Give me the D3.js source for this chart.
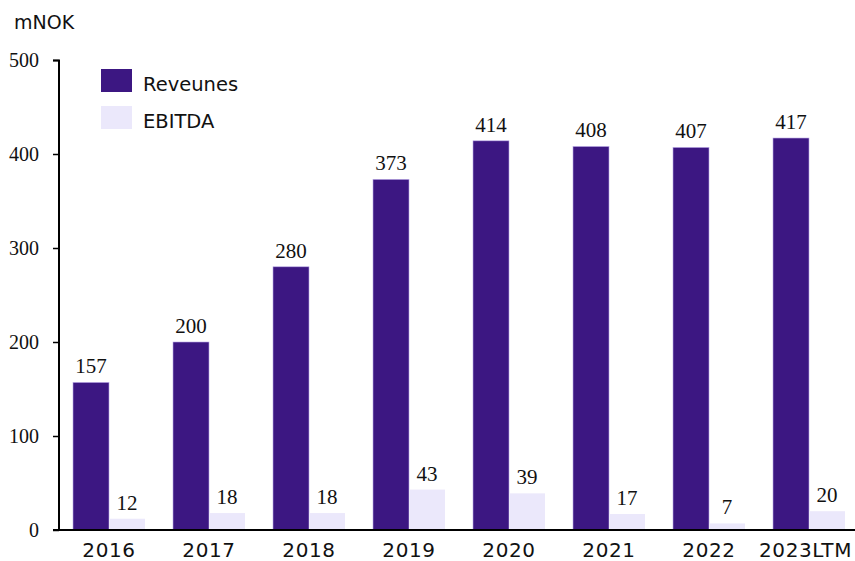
<!DOCTYPE html>
<html><head><meta charset="utf-8">
<script src="https://cdn.jsdelivr.net/npm/d3@7"></script>
<style>body{margin:0;background:#fff}</style>
</head><body>
<svg id="c" width="855" height="561"></svg>
<script>
const categories = ["2016","2017","2018","2019","2020","2021","2022","2023LTM"];
const revenues = [157,200,280,373,414,408,407,417];
const ebitda = [12,18,18,43,39,17,7,20];
const seriesNames = ["Reveunes","EBITDA"];
const yTicks = [0,100,200,300,400,500];
const unitLabel = "mNOK";

const colors = ["#3c1782","#ebe8fb"];
const serif = "'Liberation Serif', 'DejaVu Serif', serif";
const sans = "'DejaVu Sans', 'Liberation Sans', sans-serif";

const svg = d3.select("#c");
const x = d3.scaleBand().domain(categories).range([59,859]).paddingInner(0.28).paddingOuter(0.14);
const xs = d3.scaleBand().domain([0,1]).range([0,x.bandwidth()]);
const y = d3.scaleLinear().domain([0,500]).range([530,60]);

const data = [revenues, ebitda];

// bars
data.forEach((vals, si) => {
  const g = svg.append("g");
  g.selectAll("rect").data(vals).join("rect")
    .attr("x", (d,i) => x(categories[i]) + xs(si))
    .attr("y", d => y(d))
    .attr("width", xs.bandwidth())
    .attr("height", d => y(0) - y(d))
    .attr("fill", colors[si])
    .attr("stroke", si === 0 ? "#b9a8e6" : "none")
    .attr("stroke-width", 0.6);
  g.selectAll("text").data(vals).join("text")
    .attr("x", (d,i) => x(categories[i]) + xs(si) + xs.bandwidth()/2)
    .attr("y", d => y(d) - 9)
    .attr("text-anchor","middle")
    .attr("font-family", serif)
    .attr("font-size", 21)
    .attr("fill","#111")
    .text(d => d);
});

// y axis
const yAxis = svg.append("g").attr("transform","translate(59,0)")
  .call(d3.axisLeft(y).tickValues(yTicks).tickSize(6).tickPadding(14));
yAxis.select(".domain").attr("stroke","#000").attr("stroke-width",2).attr("d","M-6,60.5H0V530");
yAxis.selectAll(".tick line").attr("stroke","#000").attr("stroke-width",1.5);
yAxis.selectAll(".tick text").attr("font-family",serif).attr("font-size",20).attr("fill","#111");

// x axis
const xAxis = svg.append("g").attr("transform","translate(0,530)")
  .call(d3.axisBottom(x).tickSize(0));
xAxis.select(".domain").attr("stroke","#000").attr("stroke-width",2).attr("d","M53,0H855");
xAxis.selectAll(".tick text").attr("dy",null).attr("y",27)
  .attr("font-family",sans).attr("font-size",20).attr("letter-spacing",0.6).attr("fill","#111");
// keep labels inside the picture
xAxis.selectAll(".tick").each(function(d){
  const t = d3.select(this).select("text");
  const b = t.node().getBBox();
  const cx = x(d) + x.bandwidth()/2;
  const right = cx + b.x + b.width;
  if (right > 852) t.attr("x", 852 - right);
});

// unit label
svg.append("text").attr("x",14).attr("y",29).attr("font-family",sans).attr("font-size",19).attr("fill","#111").text(unitLabel);

// legend
seriesNames.forEach((n,i) => {
  const ly = 69 + i*37;
  svg.append("rect").attr("x",101).attr("y",ly).attr("width",31).attr("height",23).attr("fill",colors[i]);
  svg.append("text").attr("x",143).attr("y",ly+22).attr("font-family",sans).attr("font-size",19.5).attr("fill","#111").text(n);
});
</script>
</body></html>
